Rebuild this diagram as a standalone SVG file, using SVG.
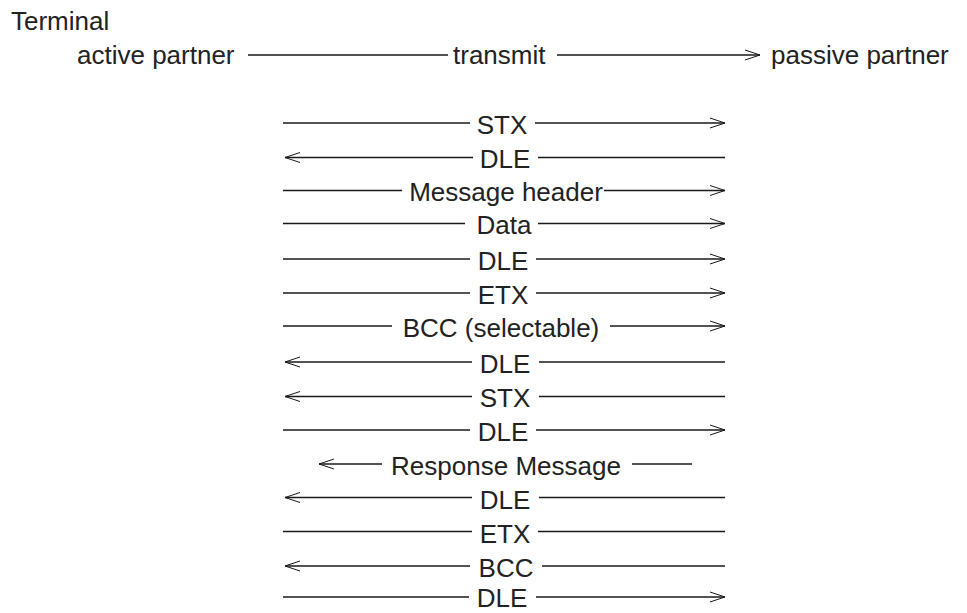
<svg xmlns="http://www.w3.org/2000/svg" width="967" height="613" viewBox="0 0 967 613">
<style>
text{font-family:"Liberation Sans",Arial,sans-serif;font-size:26px;fill:#222}
.m{text-anchor:middle}
line{stroke:#1a1a1a;stroke-width:1.3;fill:none}
</style>
<defs>
<marker id="arr" markerUnits="userSpaceOnUse" markerWidth="18" markerHeight="14" refX="15" refY="6" orient="auto" overflow="visible">
<path d="M0,1 L15,6 L0,11" fill="none" stroke="#1a1a1a" stroke-width="1"/>
</marker>
</defs>
<rect width="967" height="613" fill="#fff"/>
<g id="title"><text x="11" y="30">Terminal</text></g>
<g id="active"><text x="77" y="64">active partner</text></g>
<g id="transmit"><text x="453" y="64">transmit</text></g>
<g id="passive"><text x="771" y="64">passive partner</text></g>
<g id="labels">
<text class="m" x="502" y="134">STX</text>
<text class="m" x="505" y="168">DLE</text>
<text class="m" x="506" y="201">Message header</text>
<text class="m" x="504" y="234">Data</text>
<text class="m" x="503" y="270">DLE</text>
<text class="m" x="503" y="304">ETX</text>
<text class="m" x="501" y="337">BCC (selectable)</text>
<text class="m" x="505" y="373">DLE</text>
<text class="m" x="505" y="407">STX</text>
<text class="m" x="503" y="441">DLE</text>
<text class="m" x="506" y="475">Response Message</text>
<text class="m" x="505" y="509">DLE</text>
<text class="m" x="505" y="543">ETX</text>
<text class="m" x="506" y="577">BCC</text>
<text class="m" x="502" y="607">DLE</text>
</g>
<g id="connectors">
<line x1="248" y1="55" x2="448" y2="55"/>
<line x1="557" y1="55" x2="760" y2="55" marker-end="url(#arr)"/>

<line x1="283" y1="123" x2="470" y2="123"/>
<line x1="535" y1="123" x2="725" y2="123" marker-end="url(#arr)"/>

<line x1="473" y1="157.5" x2="285" y2="157.5" marker-end="url(#arr)"/>
<line x1="538" y1="157.5" x2="725" y2="157.5"/>

<line x1="283" y1="190.5" x2="402" y2="190.5"/>
<line x1="604" y1="190.5" x2="725" y2="190.5" marker-end="url(#arr)"/>

<line x1="283" y1="223.5" x2="465" y2="223.5"/>
<line x1="538" y1="223.5" x2="725" y2="223.5" marker-end="url(#arr)"/>

<line x1="283" y1="259" x2="470" y2="259"/>
<line x1="536" y1="259" x2="725" y2="259" marker-end="url(#arr)"/>

<line x1="283" y1="293" x2="470" y2="293"/>
<line x1="536" y1="293" x2="725" y2="293" marker-end="url(#arr)"/>

<line x1="283" y1="326" x2="392" y2="326"/>
<line x1="610" y1="326" x2="725" y2="326" marker-end="url(#arr)"/>

<line x1="472" y1="362" x2="285" y2="362" marker-end="url(#arr)"/>
<line x1="539" y1="362" x2="725" y2="362"/>

<line x1="472" y1="396.5" x2="285" y2="396.5" marker-end="url(#arr)"/>
<line x1="539" y1="396.5" x2="725" y2="396.5"/>

<line x1="283" y1="430" x2="470" y2="430"/>
<line x1="536" y1="430" x2="725" y2="430" marker-end="url(#arr)"/>

<line x1="382" y1="464" x2="319" y2="464" marker-end="url(#arr)"/>
<line x1="632" y1="464" x2="692" y2="464"/>

<line x1="472" y1="497.5" x2="285" y2="497.5" marker-end="url(#arr)"/>
<line x1="539" y1="497.5" x2="725" y2="497.5"/>

<line x1="283" y1="531.5" x2="472" y2="531.5"/>
<line x1="538" y1="531.5" x2="725" y2="531.5"/>

<line x1="470" y1="566" x2="285" y2="566" marker-end="url(#arr)"/>
<line x1="542" y1="566" x2="725" y2="566"/>

<line x1="283" y1="597" x2="469" y2="597"/>
<line x1="536" y1="597" x2="725" y2="597" marker-end="url(#arr)"/>
</g>
</svg>
